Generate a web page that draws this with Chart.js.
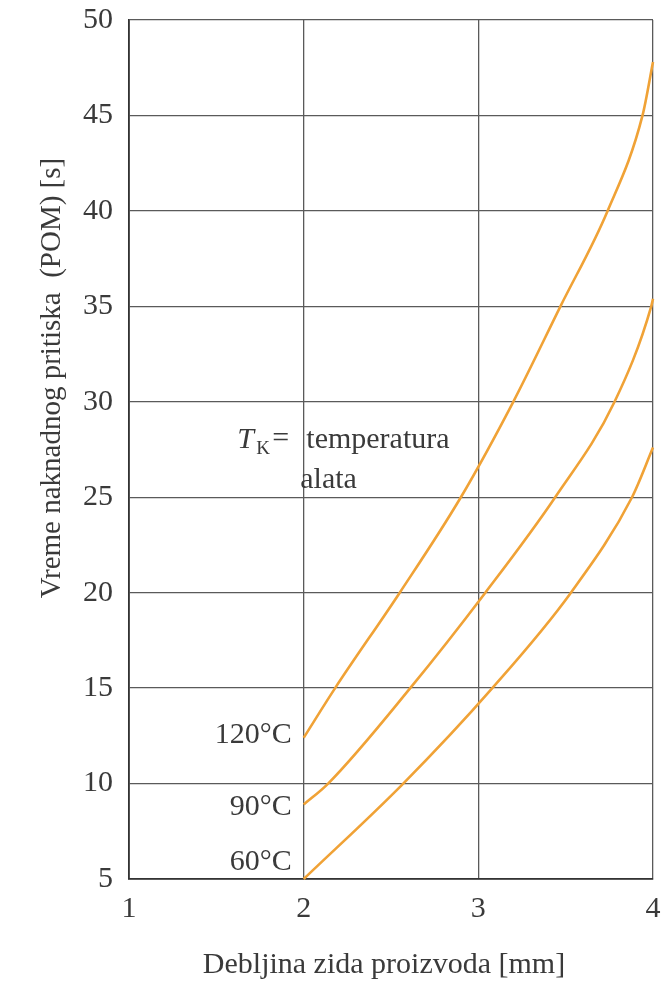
<!DOCTYPE html>
<html>
<head>
<meta charset="utf-8">
<script src="https://cdn.jsdelivr.net/npm/chart.js@4.4.0/dist/chart.umd.min.js"></script>
<style>
  html, body { margin: 0; padding: 0; background: #ffffff; }
  #wrap { width: 661px; height: 987px; position: relative; }
</style>
</head>
<body>
<div id="wrap"><canvas id="chart" width="661" height="987"></canvas></div>
<script>
// Holding-pressure time (POM) versus wall thickness, one curve per mould temperature
const thickness120 = [2.0, 2.18, 2.55, 2.90, 3.20, 3.47, 3.74, 3.94, 4.0];
const time120      = [12.4, 15,  20,   25,   30,   35,   40,   45,   47.8];

const thickness90  = [2.0, 2.14, 2.61, 3.04, 3.44, 3.78, 3.99, 4.0];
const time90       = [8.9, 10,   15,   20,   25,   30,   35,   35.4];

const thickness60  = [2.0, 2.57, 3.08, 3.53, 3.88, 4.0];
const time60       = [5.0, 10,   15,   20,   25,   27.6];

const curveLabels = ['120°C', '90°C', '60°C'];
const xTicks = [1, 2, 3, 4];
const yTicks = [5, 10, 15, 20, 25, 30, 35, 40, 45, 50];

const xTitle = 'Debljina zida proizvoda [mm]';
const yTitle = 'Vreme naknadnog pritiska  (POM) [s]';
const noteSymbol = 'T';
const noteSub = 'K';
const noteLines = ['temperatura', 'alata'];

const SERIF = '"Liberation Serif", "DejaVu Serif", serif';
const TEXT = '#3a3a3a';
const CURVE = '#F0A236';

function toPoints(xs, ys) {
  return xs.map((x, i) => ({ x: x, y: ys[i] }));
}

// label offsets next to the start of each curve
const labelShift = [-3, 3, -17];

const textPlugin = {
  id: 'textPlugin',
  afterDatasetsDraw(chart) {
    const ctx = chart.ctx;
    const xs = chart.scales.x, ys = chart.scales.y;
    ctx.save();
    ctx.fillStyle = TEXT;

    // temperature labels at the curve starts
    ctx.font = '30px ' + SERIF;
    ctx.textAlign = 'right';
    ctx.textBaseline = 'middle';
    chart.data.datasets.forEach((ds, i) => {
      const p = ds.data[0];
      ctx.fillText(curveLabels[i], xs.getPixelForValue(p.x) - 12, ys.getPixelForValue(p.y) + labelShift[i]);
    });

    // T_K = temperatura alata
    const ax = xs.getPixelForValue(1.62);
    const ay = ys.getPixelForValue(27.6);
    ctx.textAlign = 'left';
    ctx.textBaseline = 'alphabetic';
    ctx.font = 'italic 30px ' + SERIF;
    ctx.fillText(noteSymbol, ax, ay);
    ctx.font = '19px ' + SERIF;
    ctx.fillText(noteSub, ax + 19, ay + 6);
    ctx.font = '30px ' + SERIF;
    ctx.fillText('=', ax + 35, ay - 1);
    ctx.fillText(noteLines[0], ax + 69, ay);
    ctx.fillText(noteLines[1], ax + 63, ay + 40);

    // axis titles
    ctx.font = '30px ' + SERIF;
    ctx.textAlign = 'center';
    ctx.fillText(xTitle, 384, 973);
    ctx.font = '29px ' + SERIF;
    ctx.translate(60, 378);
    ctx.rotate(-Math.PI / 2);
    ctx.fillText(yTitle, 0, 0);
    ctx.restore();
  }
};

new Chart(document.getElementById('chart'), {
  type: 'line',
  data: {
    datasets: [
      { label: curveLabels[0], data: toPoints(thickness120, time120) },
      { label: curveLabels[1], data: toPoints(thickness90, time90) },
      { label: curveLabels[2], data: toPoints(thickness60, time60) }
    ].map(d => Object.assign(d, {
      borderColor: CURVE,
      borderWidth: 2.6,
      pointRadius: 0,
      fill: false,
      cubicInterpolationMode: 'monotone',
      clip: 6
    }))
  },
  options: {
    responsive: false,
    animation: false,
    events: [],
    layout: { padding: { left: 0, right: 8, top: 20, bottom: 0 } },
    plugins: { legend: { display: false }, tooltip: { enabled: false } },
    scales: {
      x: {
        type: 'linear',
        min: xTicks[0],
        max: xTicks[xTicks.length - 1],
        afterBuildTicks: s => { s.ticks = xTicks.map(v => ({ value: v })); },
        afterFit: s => { s.height = 108; s.paddingLeft = 0; s.paddingRight = 0; },
        grid: { color: '#5a5a5a', lineWidth: 1.3, drawTicks: false },
        border: { color: '#333333', width: 1.8 },
        ticks: { color: TEXT, font: { family: SERIF, size: 30 }, padding: 12, maxRotation: 0 }
      },
      y: {
        type: 'linear',
        min: yTicks[0],
        max: yTicks[yTicks.length - 1],
        afterBuildTicks: s => { s.ticks = yTicks.map(v => ({ value: v })); },
        afterFit: s => { s.width = 129; s.paddingTop = 0; s.paddingBottom = 0; },
        grid: { color: '#5a5a5a', lineWidth: 1.3, drawTicks: false },
        border: { color: '#333333', width: 1.8 },
        ticks: { color: TEXT, font: { family: SERIF, size: 30 }, padding: 16 }
      }
    }
  },
  plugins: [textPlugin]
});
</script>
</body>
</html>
